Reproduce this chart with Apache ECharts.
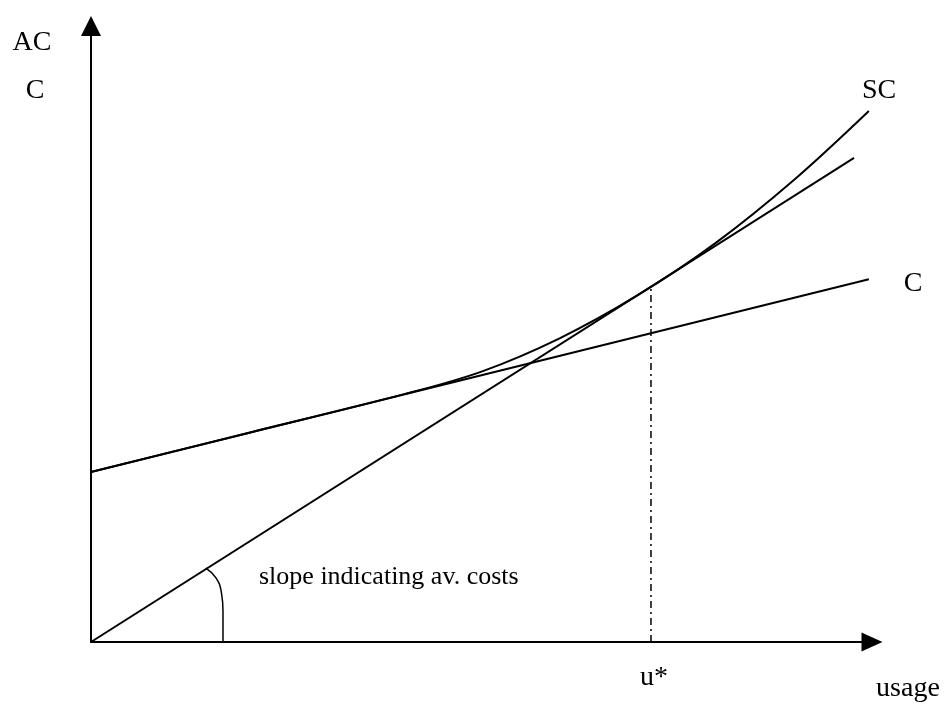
<!DOCTYPE html>
<html>
<head>
<meta charset="utf-8">
<script src="https://cdn.jsdelivr.net/npm/echarts@6/dist/echarts.min.js"></script>
<style>
  html, body { margin: 0; padding: 0; background: #fff; }
  #main { width: 949px; height: 709px; }
</style>
</head>
<body>
<div id="main"></div>
<script>
// straight cost line C  [usage, cost]
var cLine = [[0, 27.6], [99.6, 58.9]];
// ray from origin (slope = average cost), tangent to SC at u*
var rayLine = [[0, 0], [97.7, 78.6]];
// SC curve
var scCurve = [[0, 27.6], [20, 33.9], [40, 40.2], [50, 43.9], [60, 49.3], [70, 56.3], [80, 64.8], [90, 75.0], [99.6, 86.2]];
// u* marker (dash-dot drop line)
var uStar = [[71.7, 0], [71.7, 57.6]];
// angle arc near origin
var slopeArc = [[14.7, 12.0], [16.0, 10.4], [16.7, 8.0], [16.9, 5.0], [16.9, 0]];

var FONT = "'Liberation Serif', 'DejaVu Serif', serif";

var chart = echarts.init(document.getElementById("main"));

function lineSeries(data, extra) {
    var s = {
        type: "line",
        data: data,
        symbol: "none",
        animation: false,
        silent: true,
        lineStyle: { color: "#000", width: 2 }
    };
    for (var k in extra) s[k] = extra[k];
    return s;
}

function label(txt, x, y, size) {
    return {
        type: "text",
        x: x,
        y: y,
        silent: true,
        style: {
            text: txt,
            fill: "#000",
            font: (size || 28) + "px " + FONT,
            align: "center",
            verticalAlign: "middle"
        }
    };
}

var axisBase = {
    type: "value",
    min: 0,
    max: 100,
    splitLine: { show: false },
    axisTick: { show: false },
    axisLabel: { show: false },
    axisLine: {
        show: true,
        symbol: ["none", "triangle"],
        lineStyle: { color: "#000", width: 2 }
    }
};

chart.setOption({
    backgroundColor: "#fff",
    animation: false,
    grid: { left: 91, right: 77, top: 26, bottom: 67 },
    xAxis: echarts.util.merge({ axisLine: { symbolSize: [19, 21] } }, axisBase, false),
    yAxis: echarts.util.merge({ axisLine: { symbolSize: [20, 20] } }, axisBase, false),
    series: [
        lineSeries(cLine),
        lineSeries(rayLine),
        lineSeries(scCurve, { smooth: 0.35 }),
        lineSeries(uStar, { lineStyle: { color: "#000", width: 1.5, type: [7, 4, 2, 4] } }),
        lineSeries(slopeArc, { smooth: 0.5, lineStyle: { color: "#000", width: 1.5 } })
    ],
    graphic: [
        label("AC", 32, 43),
        label("C", 35, 91),
        label("SC", 879, 91),
        label("C", 913, 284),
        label("u*", 654, 678),
        label("usage", 908, 689),
        {
            type: "text",
            x: 259,
            y: 577,
            silent: true,
            style: {
                text: "slope indicating av. costs",
                fill: "#000",
                font: "26px " + FONT,
                align: "left",
                verticalAlign: "middle"
            }
        }
    ]
});
</script>
</body>
</html>
